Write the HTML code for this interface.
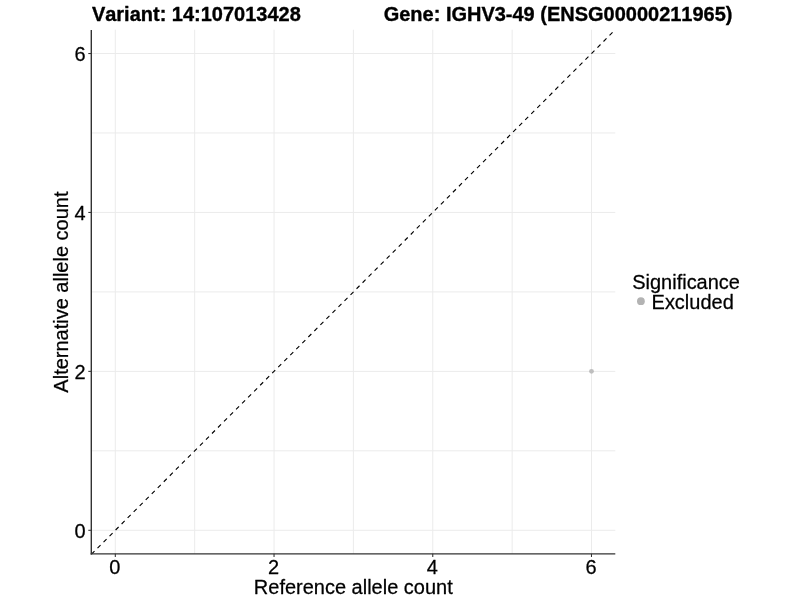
<!DOCTYPE html>
<html><head><meta charset="utf-8"><title>Allele counts</title>
<style>
html,body{margin:0;padding:0;background:#fff;}
svg{display:block;font-family:"Liberation Sans",sans-serif;font-size:20px;fill:#000;font-kerning:none;}
text{stroke:#000;stroke-width:0.25px;stroke-linejoin:round;}
.grid line{stroke:#ebebeb;stroke-width:1;}
.axis line{stroke:#333;stroke-width:1.07;}
.axis .ax{stroke-width:1.27;}
.title{font-weight:bold;stroke-width:0.35px;}
</style></head><body>
<svg width="800" height="600" viewBox="0 0 800 600">
<rect width="800" height="600" fill="#fff"/>
<g class="grid">
<line x1="115.31" y1="29.7" x2="115.31" y2="553.8"/>
<line x1="91.5" y1="530.30" x2="615.3" y2="530.30"/>
<line x1="194.67" y1="29.7" x2="194.67" y2="553.8"/>
<line x1="91.5" y1="450.84" x2="615.3" y2="450.84"/>
<line x1="274.04" y1="29.7" x2="274.04" y2="553.8"/>
<line x1="91.5" y1="371.37" x2="615.3" y2="371.37"/>
<line x1="353.40" y1="29.7" x2="353.40" y2="553.8"/>
<line x1="91.5" y1="291.91" x2="615.3" y2="291.91"/>
<line x1="432.76" y1="29.7" x2="432.76" y2="553.8"/>
<line x1="91.5" y1="212.45" x2="615.3" y2="212.45"/>
<line x1="512.13" y1="29.7" x2="512.13" y2="553.8"/>
<line x1="91.5" y1="132.98" x2="615.3" y2="132.98"/>
<line x1="591.49" y1="29.7" x2="591.49" y2="553.8"/>
<line x1="91.5" y1="53.52" x2="615.3" y2="53.52"/>
</g>
<line x1="91.5" y1="554.14" x2="615.3" y2="29.68" stroke="#000" stroke-width="1.12" stroke-dasharray="4.262 4.262"/>
<circle cx="591.49" cy="371.37" r="2.4" fill="#bebebe"/>
<g class="axis">
<line class="ax" x1="91.3" y1="29.9" x2="91.3" y2="554.45" style="stroke-width:1.4"/>
<line class="ax" x1="90.6" y1="553.8" x2="615.3" y2="553.8" style="stroke-width:1.3"/>
<line x1="115.31" y1="553.8" x2="115.31" y2="557.0"/>
<line x1="88.3" y1="530.30" x2="91.5" y2="530.30"/>
<line x1="274.04" y1="553.8" x2="274.04" y2="557.0"/>
<line x1="88.3" y1="371.37" x2="91.5" y2="371.37"/>
<line x1="432.76" y1="553.8" x2="432.76" y2="557.0"/>
<line x1="88.3" y1="212.45" x2="91.5" y2="212.45"/>
<line x1="591.49" y1="553.8" x2="591.49" y2="557.0"/>
<line x1="88.3" y1="53.52" x2="91.5" y2="53.52"/>
</g>
<g class="ticklabels">
<text transform="translate(114.81,574.25) scale(1,1.045)" text-anchor="middle">0</text>
<text transform="translate(85.6,537.55) scale(1,1.045)" text-anchor="end">0</text>
<text transform="translate(273.54,574.25) scale(1,1.045)" text-anchor="middle">2</text>
<text transform="translate(85.6,378.62) scale(1,1.045)" text-anchor="end">2</text>
<text transform="translate(432.26,574.25) scale(1,1.045)" text-anchor="middle">4</text>
<text transform="translate(85.6,219.70) scale(1,1.045)" text-anchor="end">4</text>
<text transform="translate(590.99,574.25) scale(1,1.045)" text-anchor="middle">6</text>
<text transform="translate(85.6,60.77) scale(1,1.045)" text-anchor="end">6</text>
</g>
<text class="title" transform="translate(91.9,20.9) scale(1,1.045)">Variant: 14:107013428</text>
<text class="title" transform="translate(383.7,20.9) scale(1,1.045)">Gene: IGHV3-49 (ENSG00000211965)</text>
<text transform="translate(353.3,594.35) scale(1,1.045)" text-anchor="middle">Reference allele count</text>
<text transform="translate(68.05,292.1) rotate(-90) scale(1,1.045)" text-anchor="middle">Alternative allele count</text>
<text transform="translate(632.2,289.2) scale(1,1.045)">Significance</text>
<circle cx="640.9" cy="301.2" r="3.9" fill="#b3b3b3"/>
<text transform="translate(651.55,309.35) scale(1,1.045)">Excluded</text>
</svg>
</body></html>
